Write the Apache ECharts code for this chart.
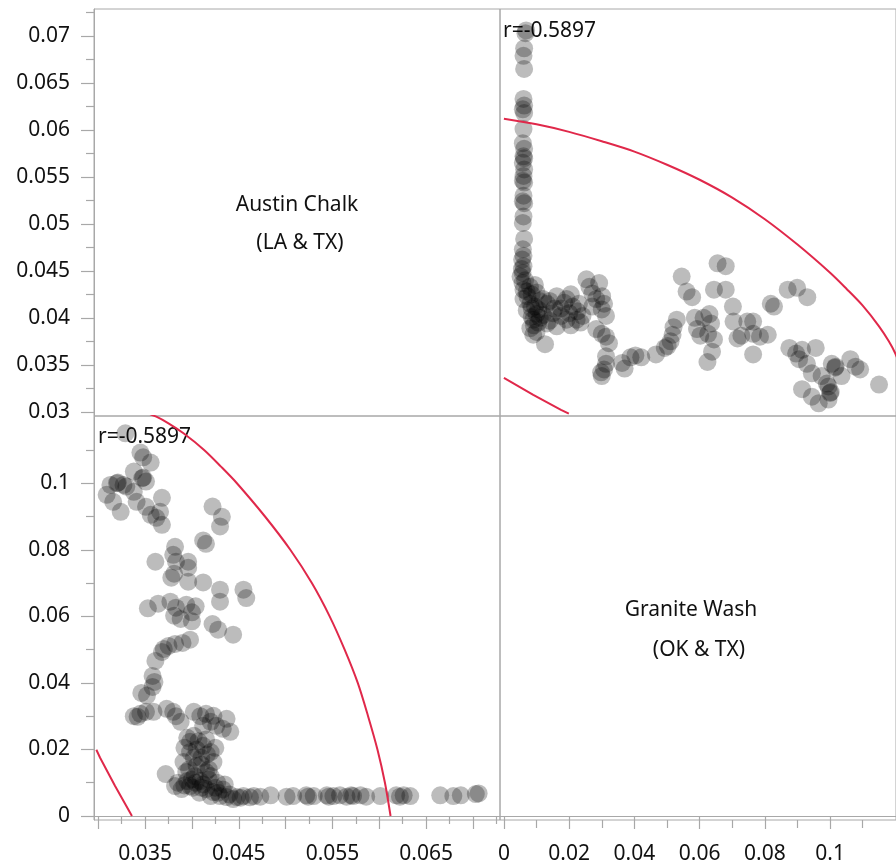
<!DOCTYPE html>
<html>
<head>
<meta charset="utf-8">
<script src="https://cdn.jsdelivr.net/npm/echarts@6/dist/echarts.min.js"></script>
<style>
html, body { margin: 0; padding: 0; background: #fff; }
#chart { width: 896px; height: 865px; }
</style>
</head>
<body>
<div id="chart"></div>
<script>
// pairs are [Austin Chalk, Granite Wash]
const columnPairs = [
  [0.0703, 0.0066], [0.0706, 0.0068], [0.0687, 0.0062], [0.0679, 0.0060], [0.0665, 0.0062],
  [0.0633, 0.0060], [0.0626, 0.0062], [0.0622, 0.0058], [0.0618, 0.0062], [0.0601, 0.0060],
  [0.0586, 0.0058], [0.0580, 0.0062], [0.0572, 0.0060], [0.0570, 0.0062], [0.0565, 0.0058],
  [0.0558, 0.0062], [0.0551, 0.0060], [0.0546, 0.0058], [0.0544, 0.0062], [0.0530, 0.0060],
  [0.0524, 0.0058], [0.0522, 0.0062], [0.0508, 0.0060], [0.0501, 0.0058], [0.0484, 0.0062],
  [0.0473, 0.0058], [0.0466, 0.0060], [0.0462, 0.0056], [0.0455, 0.0060], [0.0448, 0.0057]
]
const corePairs = [
  [0.0372, 0.0126], [0.0382, 0.0090], [0.0389, 0.0081], [0.0398, 0.0090], [0.0394, 0.0132],
  [0.0391, 0.0162], [0.0398, 0.0192], [0.0398, 0.0223], [0.0402, 0.0241], [0.0412, 0.0211],
  [0.0420, 0.0192], [0.0423, 0.0162], [0.0415, 0.0132], [0.0409, 0.0105], [0.0415, 0.0081],
  [0.0423, 0.0072], [0.0430, 0.0060], [0.0437, 0.0057], [0.0444, 0.0051], [0.0452, 0.0055],
  [0.0405, 0.0150], [0.0410, 0.0175], [0.0403, 0.0120], [0.0412, 0.0095], [0.0418, 0.0110],
  [0.0425, 0.0085], [0.0408, 0.0070], [0.0400, 0.0110], [0.0395, 0.0105], [0.0418, 0.0140],
  [0.0428, 0.0070], [0.0433, 0.0080], [0.0405, 0.0200], [0.0395, 0.0235], [0.0415, 0.0230],
  [0.0425, 0.0205], [0.0440, 0.0065], [0.0435, 0.0095], [0.0401, 0.0085], [0.0420, 0.0060],
  [0.0397, 0.0140], [0.0402, 0.0175], [0.0392, 0.0205], [0.0410, 0.0155], [0.0416, 0.0185],
  [0.0404, 0.0100], [0.0392, 0.0092], [0.0420, 0.0120], [0.0427, 0.0100], [0.0410, 0.0085],
  [0.0385, 0.0100], [0.0407, 0.0225]
]
const midPairs = [
  [0.0412, 0.0271], [0.0420, 0.0283], [0.0426, 0.0271], [0.0433, 0.0262], [0.0437, 0.0292],
  [0.0441, 0.0253], [0.0423, 0.0301],
  [0.0338, 0.0300], [0.0342, 0.0298], [0.0345, 0.0307], [0.0351, 0.0313], [0.0359, 0.0313],
  [0.0373, 0.0322], [0.0380, 0.0313], [0.0383, 0.0300], [0.0388, 0.0283], [0.0402, 0.0313],
  [0.0409, 0.0300], [0.0415, 0.0307],
  [0.0346, 0.0370], [0.0352, 0.0362], [0.0358, 0.0388], [0.0360, 0.0403], [0.0358, 0.0421],
  [0.0361, 0.0466], [0.0368, 0.0493], [0.0370, 0.0502], [0.0375, 0.0511], [0.0382, 0.0517],
  [0.0390, 0.0520], [0.0398, 0.0530]
]
const upperPairs = [
  [0.0444, 0.0545], [0.0428, 0.0560], [0.0422, 0.0577], [0.0400, 0.0585], [0.0388, 0.0592],
  [0.0381, 0.0602], [0.0353, 0.0624], [0.0364, 0.0638], [0.0377, 0.0644], [0.0383, 0.0626],
  [0.0394, 0.0635], [0.0404, 0.0630], [0.0400, 0.0612], [0.0430, 0.0644], [0.0458, 0.0655],
  [0.0455, 0.0680], [0.0430, 0.0680],
  [0.0382, 0.0809], [0.0361, 0.0764], [0.0380, 0.0785], [0.0383, 0.0764], [0.0396, 0.0764],
  [0.0378, 0.0716], [0.0381, 0.0728], [0.0396, 0.0746], [0.0396, 0.0704], [0.0412, 0.0702],
  [0.0412, 0.0828], [0.0415, 0.0818]
]
const rightPairs = [
  [0.0422, 0.0930], [0.0432, 0.0899], [0.0430, 0.0870], [0.0329, 0.1150], [0.0345, 0.1092],
  [0.0348, 0.1078], [0.0356, 0.1062], [0.0338, 0.1035], [0.0348, 0.1017], [0.0351, 0.1005],
  [0.0313, 0.0995], [0.0321, 0.1002], [0.0327, 0.0995], [0.0330, 0.0990], [0.0309, 0.0965],
  [0.0324, 0.0914], [0.0316, 0.0944], [0.0338, 0.0974], [0.0341, 0.0944], [0.0351, 0.0929],
  [0.0356, 0.0905], [0.0368, 0.0956], [0.0366, 0.0914], [0.0368, 0.0875], [0.0362, 0.0896],
  [0.0320, 0.1000], [0.0347, 0.1015]
]
const wellPairs = [].concat(columnPairs, corePairs, midPairs, upperPairs, rightPairs)

// density ellipse
const ellipseUpperAC = [0.0612, 0.0606, 0.0598, 0.0588, 0.0577, 0.0563, 0.0547, 0.0528, 0.0505, 0.0478, 0.0448, 0.0431, 0.0413, 0.0391, 0.0375, 0.0362, 0.0348, 0.0332]
const ellipseUpperGW = [0, 0.01, 0.02, 0.03, 0.04, 0.05, 0.06, 0.07, 0.08, 0.09, 0.10, 0.105, 0.11, 0.115, 0.118, 0.120, 0.1215, 0.123]
const ellipseLowerAC = [0.0336, 0.0318, 0.0302, 0.0298]
const ellipseLowerGW = [0, 0.009, 0.0175, 0.0199]

const corrText = 'r=-0.5897'
const acRange = [0.02955, 0.07288]
const gwRange = [-0.0012, 0.1202]
const acMajor = [0.03, 0.035, 0.04, 0.045, 0.05, 0.055, 0.06, 0.065, 0.07]
const acMinor = [0.0325, 0.0375, 0.0425, 0.0475, 0.0525, 0.0575, 0.0625, 0.0675, 0.0725]
const acBottomLabels = [0.035, 0.045, 0.055, 0.065]
const gwMajor = [0, 0.02, 0.04, 0.06, 0.08, 0.1]
const gwMinor = [0.01, 0.03, 0.05, 0.07, 0.09, 0.11]

const frameColor = '#a8a8a8'
const fontFamily = '"Noto Sans", "Open Sans", sans-serif'

function axis (gridIndex, range, opt) {
  opt = opt || {}
  let a = {
    type: 'value',
    gridIndex: gridIndex,
    min: range[0],
    max: range[1],
    position: opt.position,
    offset: 0,
    splitLine: { show: false },
    axisLine: { show: !!opt.line, lineStyle: { color: frameColor, width: 1 } },
    axisTick: { show: false },
    axisLabel: { show: false }
  }
  if (opt.ticks) {
    a.axisTick = {
      show: true,
      customValues: opt.ticks,
      length: opt.tickLen,
      lineStyle: { color: frameColor, width: 1.2 }
    }
  }
  if (opt.labels) {
    a.axisLabel = {
      show: true,
      customValues: opt.labels,
      margin: opt.margin,
      color: '#111',
      fontSize: 21,
      fontFamily: fontFamily
    }
  }
  return a
}

const chart = echarts.init(document.getElementById('chart'))
const grids = [
  { left: 94, top: 9, width: 406, height: 407 },
  { left: 500, top: 9, width: 404, height: 407 },
  { left: 94, top: 416, width: 406, height: 405 },
  { left: 500, top: 416, width: 404, height: 405 }
].map(g => Object.assign({ show: true, borderColor: frameColor, borderWidth: 1, backgroundColor: 'transparent' }, g))

const dotStyle = { color: 'rgba(0,0,0,0.33)' }
const redLine = { color: '#e0284a', width: 2 }

const option = {
  animation: false,
  backgroundColor: '#fff',
  grid: grids,
  xAxis: [
    axis(0, acRange, { position: 'bottom' }),
    axis(1, gwRange, { position: 'bottom' }),
    axis(2, acRange, { position: 'bottom', line: true, ticks: acMajor, tickLen: 13, labels: acBottomLabels, margin: 24 }),
    axis(2, acRange, { position: 'bottom', ticks: acMinor, tickLen: 8 }),
    axis(3, gwRange, { position: 'bottom', line: true, ticks: gwMajor, tickLen: 13, labels: gwMajor, margin: 24 }),
    axis(3, gwRange, { position: 'bottom', ticks: gwMinor, tickLen: 8 })
  ],
  yAxis: [
    axis(0, acRange, { position: 'left', line: true, ticks: acMajor, tickLen: 13, labels: acMajor, margin: 24 }),
    axis(0, acRange, { position: 'left', ticks: acMinor, tickLen: 8 }),
    axis(1, acRange, { position: 'left' }),
    axis(2, gwRange, { position: 'left', line: true, ticks: gwMajor, tickLen: 13, labels: gwMajor, margin: 24 }),
    axis(2, gwRange, { position: 'left', ticks: gwMinor, tickLen: 8 }),
    axis(3, gwRange, { position: 'left' })
  ],
  series: [
    {
      type: 'scatter', xAxisIndex: 1, yAxisIndex: 2, symbolSize: 18, itemStyle: dotStyle,
      data: wellPairs.map(p => [p[1], p[0]])
    },
    {
      type: 'scatter', xAxisIndex: 2, yAxisIndex: 3, symbolSize: 18, itemStyle: dotStyle,
      data: wellPairs.map(p => [p[0], p[1]])
    },
    {
      type: 'line', xAxisIndex: 1, yAxisIndex: 2, showSymbol: false, smooth: 0.3, z: 4, lineStyle: redLine,
      data: ellipseUpperGW.map((g, i) => [g, ellipseUpperAC[i]])
    },
    {
      type: 'line', xAxisIndex: 1, yAxisIndex: 2, showSymbol: false, z: 4, lineStyle: redLine,
      data: ellipseLowerGW.map((g, i) => [g, ellipseLowerAC[i]])
    },
    {
      type: 'line', xAxisIndex: 2, yAxisIndex: 3, showSymbol: false, smooth: 0.3, z: 4, lineStyle: redLine,
      data: ellipseUpperGW.map((g, i) => [ellipseUpperAC[i], g])
    },
    {
      type: 'line', xAxisIndex: 2, yAxisIndex: 3, showSymbol: false, z: 4, lineStyle: redLine,
      data: ellipseLowerGW.map((g, i) => [ellipseLowerAC[i], g])
    }
  ],
  graphic: [
    { type: 'text', x: 297, y: 205, style: { text: 'Austin Chalk', fontSize: 21, fontFamily: fontFamily, fill: '#111', align: 'center', verticalAlign: 'middle' } },
    { type: 'text', x: 300, y: 243, style: { text: '(LA & TX)', fontSize: 21, fontFamily: fontFamily, fill: '#111', align: 'center', verticalAlign: 'middle' } },
    { type: 'text', x: 691, y: 610, style: { text: 'Granite Wash', fontSize: 21, fontFamily: fontFamily, fill: '#111', align: 'center', verticalAlign: 'middle' } },
    { type: 'text', x: 699, y: 650, style: { text: '(OK & TX)', fontSize: 21, fontFamily: fontFamily, fill: '#111', align: 'center', verticalAlign: 'middle' } },
    { type: 'text', x: 503, y: 31, style: { text: corrText, fontSize: 21, fontFamily: fontFamily, fill: '#111', align: 'left', verticalAlign: 'middle' } },
    { type: 'text', x: 98, y: 437, style: { text: corrText, fontSize: 21, fontFamily: fontFamily, fill: '#111', align: 'left', verticalAlign: 'middle' } }
  ]
}
chart.setOption(option)
</script>
</body>
</html>
